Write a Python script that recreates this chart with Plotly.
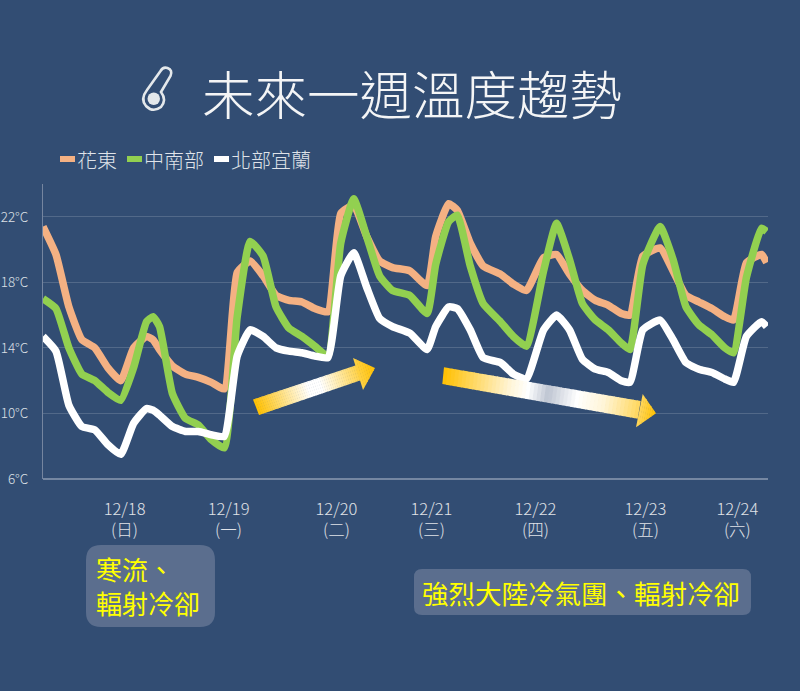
import plotly.graph_objects as go

W, H = 800, 691
ML, MR, MT, MB = 43, 32, 184, 212
BG = "#324D73"
FONT = "Noto Sans CJK TC"

hours = [0, 3, 6, 9, 12, 15, 18, 21, 24, 25.5, 27, 30, 33, 36, 39, 42, 45, 48, 51, 54, 57, 60, 63, 66, 69, 72, 75, 78, 81,
         85, 89, 91, 94, 96, 99, 102, 106, 109, 112, 116, 119, 122, 125, 128, 131, 134, 136, 139, 143,
         146, 149, 152, 155, 158, 160, 163, 166.5, 167.7]
huadong = [21.4, 19.7, 16.5, 14.5, 14.0, 12.8, 12.0, 14.0, 14.7, 14.5, 13.9, 12.9, 12.4, 12.2, 11.9, 11.5, 18.6, 19.3, 18.4, 17.2, 16.9, 16.8, 16.4, 16.2, 22.2, 22.7, 20.8, 19.3, 18.9,
           18.7, 17.8, 20.8, 22.8, 22.4, 20.4, 19.0, 18.5, 17.9, 17.5, 19.5, 19.7, 18.5, 17.5, 16.9, 16.6, 16.1, 16.0, 19.6, 20.1,
           18.7, 17.2, 16.8, 16.4, 15.9, 15.7, 19.2, 19.7, 19.2]
central_south = [17.0, 16.4, 14.0, 12.4, 12.0, 11.3, 10.8, 12.8, 15.6, 15.9, 15.3, 11.2, 9.7, 9.3, 8.4, 7.9, 15.9, 20.5, 19.6, 16.5, 15.2, 14.7, 14.1, 13.5, 20.4, 23.1, 20.8, 18.4, 17.5,
                 17.2, 16.1, 19.1, 21.7, 22.1, 19.0, 16.7, 15.6, 14.7, 14.1, 18.7, 21.6, 19.4, 16.7, 15.7, 15.1, 14.3, 13.9, 19.1, 21.4,
                 19.4, 16.5, 15.4, 14.8, 14.0, 13.7, 18.3, 21.3, 21.1]
north_yilan = [14.7, 13.8, 10.5, 9.2, 9.0, 8.1, 7.5, 9.4, 10.3, 10.2, 9.9, 9.2, 8.9, 8.9, 8.7, 8.6, 13.5, 15.1, 14.7, 14.0, 13.8, 13.7, 13.5, 13.4, 18.4, 19.8, 17.7, 15.8, 15.3,
               14.9, 13.9, 15.3, 16.5, 16.4, 15.1, 13.4, 13.1, 12.4, 12.1, 15.1, 16.0, 15.1, 13.3, 12.7, 12.5, 12.0, 11.9, 15.1, 15.7,
               14.5, 13.1, 12.7, 12.5, 12.1, 11.9, 14.7, 15.6, 15.3]
series_names = ["花東", "中南部", "北部宜蘭"]
series_colors = ["#F4B183", "#92D050", "#FFFFFF"]
y_ticks = [6, 10, 14, 18, 22]
x_tick_hours = [18.9, 43, 68, 90, 114.1, 139.6, 160.9]
x_tick_labels = ["12/18<br>(日)", "12/19<br>(一)", "12/20<br>(二)", "12/21<br>(三)", "12/22<br>(四)", "12/23<br>(五)", "12/24<br>(六)"]


def fx(x):
    return (x - ML) / (W - ML - MR)


def fy(y):
    return (H - MB - y) / (H - MT - MB)


def P(x, y):
    return f"{fx(x):.5f},{fy(y):.5f}"


def rounded(x0, y0, x1, y1, r):
    return (f"M{P(x0+r,y0)} L{P(x1-r,y0)} Q{P(x1,y0)} {P(x1,y0+r)} L{P(x1,y1-r)} Q{P(x1,y1)} {P(x1-r,y1)} "
            f"L{P(x0+r,y1)} Q{P(x0,y1)} {P(x0,y1-r)} L{P(x0,y0+r)} Q{P(x0,y0)} {P(x0+r,y0)} Z")


def lerp(a, b, t):
    return a + (b - a) * t


def grad_color(stops, t):
    for (t0, c0), (t1, c1) in zip(stops, stops[1:]):
        if t <= t1:
            f = (t - t0) / (t1 - t0)
            return "rgb(%d,%d,%d)" % tuple(round(lerp(a, b, f)) for a, b in zip(c0, c1))
    return "rgb(%d,%d,%d)" % stops[-1][1]


def strip(a0, a1, b0, b1, col):
    return dict(type="path", xref="paper", yref="paper", layer="above", line_width=0, fillcolor=col,
                path=f"M{P(*a0)} L{P(*a1)} L{P(*b1)} L{P(*b0)} Z")


def arrow_shapes(t_a, t_b, s_a, s_b, h_a, h_b, tip, stops, n=60):
    out = []
    head_share = 0.12
    shaft_n = int(n * (1 - head_share))
    for i in range(shaft_n):
        f0, f1 = i / shaft_n, min((i + 1.2) / shaft_n, 1)
        col = grad_color(stops, (i + 0.5) / shaft_n * (1 - head_share))
        out.append(strip((lerp(t_a[0], s_a[0], f0), lerp(t_a[1], s_a[1], f0)),
                         (lerp(t_a[0], s_a[0], f1), lerp(t_a[1], s_a[1], f1)),
                         (lerp(t_b[0], s_b[0], f0), lerp(t_b[1], s_b[1], f0)),
                         (lerp(t_b[0], s_b[0], f1), lerp(t_b[1], s_b[1], f1)), col))
    head_n = n - shaft_n
    for i in range(head_n):
        f0, f1 = i / head_n, min((i + 1.2) / head_n, 1)
        col = grad_color(stops, (1 - head_share) + (i + 0.5) / head_n * head_share)
        out.append(strip((lerp(h_a[0], tip[0], f0), lerp(h_a[1], tip[1], f0)),
                         (lerp(h_a[0], tip[0], f1), lerp(h_a[1], tip[1], f1)),
                         (lerp(h_b[0], tip[0], f0), lerp(h_b[1], tip[1], f0)),
                         (lerp(h_b[0], tip[0], f1), lerp(h_b[1], tip[1], f1)), col))
    return out


GOLD = (255, 192, 0)
WHITE = (255, 255, 255)
GREY = (190, 197, 210)

fig = go.Figure()
for name, vals, col in zip(series_names, [huadong, central_south, north_yilan], series_colors):
    fig.add_trace(go.Scatter(x=hours, y=vals, name=name, mode="lines", showlegend=False,
                             line=dict(color=col, width=7.5, shape="spline", smoothing=0.45), hoverinfo="skip"))

shapes = [dict(type="line", xref="paper", yref="paper", layer="below", x0=0, x1=1, y0=0, y1=0,
               line=dict(color="#8D9BB2", width=1.5))]
shapes += arrow_shapes((253, 399.5), (259, 415), (357, 365), (361.5, 380), (353, 358), (363, 390), (375, 368),
                       [(0, GOLD), (0.45, WHITE), (0.55, WHITE), (1, GOLD)])
shapes += arrow_shapes((444, 367.3), (442.3, 384), (640.7, 401), (637.7, 418.7), (642.7, 394), (636, 427.3), (656, 413.3),
                       [(0, GOLD), (0.3, (255, 245, 215)), (0.38, WHITE), (0.47, GREY), (0.6, WHITE), (0.72, (255, 245, 215)), (1, GOLD)])
for box in [(86, 545, 215, 627, 15), (414, 569, 751, 615, 8)]:
    shapes.append(dict(type="path", xref="paper", yref="paper", layer="above", line_width=0, fillcolor="#5B6E8E",
                       path=rounded(*box)))
for x0, col in zip([60, 127, 214], series_colors):
    shapes.append(dict(type="rect", xref="paper", yref="paper", layer="above", line_width=0, fillcolor=col,
                       x0=fx(x0), x1=fx(x0 + 15), y0=fy(162), y1=fy(156)))
ICON = "#E4E8EB"
shapes.append(dict(type="path", xref="paper", yref="paper", layer="above", fillcolor="rgba(0,0,0,0)",
                   line=dict(color=ICON, width=2.6),
                   path=(f"M{P(161,92)} L{P(170.5,76)} Q{P(173,70)} {P(167.5,68)} Q{P(163,66.5)} {P(160.5,71)} L{P(147,90)} "
                         f"Q{P(140,99)} {P(146,106)} Q{P(153,113)} {P(161,107)} Q{P(167,100)} {P(161,92)} Z")))
shapes.append(dict(type="circle", xref="paper", yref="paper", layer="above", line_width=0, fillcolor=ICON,
                   x0=fx(147.5), x1=fx(160), y0=fy(105), y1=fy(92.5)))

annotations = [dict(text="未來一週溫度趨勢", x=fx(201), y=fy(92), xanchor="left", yanchor="middle",
                    font=dict(size=52.5, color="#F4F5F6", family=FONT, weight=300))]
for x0, name in zip([76, 143, 230], series_names):
    annotations.append(dict(text=name, x=fx(x0), y=fy(159), xanchor="left", yanchor="middle",
                            font=dict(size=20, color="#DFE3E9", family=FONT, weight=300)))
annotations.append(dict(text="寒流、<br>輻射冷卻", x=fx(95), y=fy(585), xanchor="left", yanchor="middle", align="left",
                        font=dict(size=26, color="#FFFF00", family=FONT, weight=400)))
annotations.append(dict(text="強烈大陸冷氣團、輻射冷卻", x=fx(421), y=fy(592), xanchor="left", yanchor="middle",
                        font=dict(size=26.5, color="#FFFF00", family=FONT, weight=400)))
for a in annotations:
    a.update(xref="paper", yref="paper", showarrow=False, borderpad=0)

fig.update_layout(
    width=W, height=H, autosize=False,
    paper_bgcolor=BG, plot_bgcolor=BG,
    margin=dict(l=ML, r=MR, t=MT, b=MB, pad=0),
    showlegend=False,
    font=dict(family=FONT, color="#E0E3E8"),
    xaxis=dict(range=[0, 168], tickmode="array", tickvals=x_tick_hours, ticktext=x_tick_labels,
               showgrid=False, zeroline=False, showline=False, automargin=False,
               ticks="outside", ticklen=15, tickcolor="rgba(0,0,0,0)",
               tickfont=dict(size=16.5, color="#E0E3E8", family=FONT, weight=300)),
    yaxis=dict(range=[6, 24], tickmode="array", tickvals=y_ticks, ticktext=[f"{v}°C" for v in y_ticks],
               showgrid=True, gridcolor="rgba(255,255,255,0.16)", gridwidth=1, zeroline=False,
               showline=True, linecolor="#75859F", linewidth=1, automargin=False,
               ticks="outside", ticklen=11, tickcolor="rgba(0,0,0,0)",
               tickfont=dict(size=13.5, color="#DDE0E6", family=FONT, weight=300)),
    shapes=shapes, annotations=annotations,
)
fig.write_html("out.html", config=dict(displayModeBar=False),
               post_script="document.body.style.margin='0';document.body.style.overflow='hidden';document.body.style.background='%s';" % BG)
